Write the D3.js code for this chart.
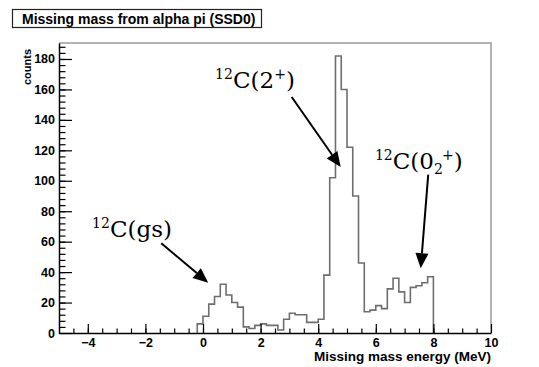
<!DOCTYPE html>
<html>
<head>
<meta charset="utf-8">
<script src="https://cdn.jsdelivr.net/npm/d3@7"></script>
<style>
  body { margin: 0; background: #fff; }
  svg { display: block; }
</style>
</head>
<body>
<svg id="chart"></svg>
<script>
// histogram bins: low edge (MeV) and content
const binWidth = 0.2;
const binLow = [-0.2, 0.0, 0.2, 0.4, 0.6, 0.8, 1.0, 1.2, 1.4, 1.6,
                1.8, 2.0, 2.2, 2.4, 2.6, 2.8, 3.0, 3.2, 3.4, 3.6,
                3.8, 4.0, 4.2, 4.4, 4.6, 4.8, 5.0, 5.2, 5.4, 5.6,
                5.8, 6.0, 6.2, 6.4, 6.6, 6.8, 7.0, 7.2, 7.4, 7.6, 7.8];
const counts = [6, 11, 19, 24, 32, 25, 20, 17, 4, 3,
                5, 6, 5, 5, 2, 9, 13, 12, 12, 7,
                7, 9, 38, 102, 182, 160, 122, 90, 46, 14,
                15, 18, 16, 29, 36, 27, 20, 30, 31, 33, 37];

const xTicks = [-4, -2, 0, 2, 4, 6, 8, 10];
const yTicks = [0, 20, 40, 60, 80, 100, 120, 140, 160, 180];

// annotations: label position and arrow (data coordinates)
const notes = [
  {iso: "12", main: "C(gs)", sub: "", sup: "", tail: "",
   lx: -3.85, ly: 63, x1: -1.45, y1: 59, x2: 0.18, y2: 33},
  {iso: "12", main: "C(2", sub: "", sup: "+", tail: ")",
   lx: 0.42, ly: 161, x1: 3.08, y1: 155, x2: 4.78, y2: 109},
  {iso: "12", main: "C(0", sub: "2", sup: "+", tail: ")",
   lx: 5.97, ly: 108, x1: 7.82, y1: 104, x2: 7.56, y2: 42.5}
];

const width = 539, height = 367;
const margin = {top: 43, right: 48, bottom: 34, left: 59};

const svg = d3.select("#chart")
    .attr("width", width)
    .attr("height", height);

const x = d3.scaleLinear().domain([-5, 10]).range([margin.left, width - margin.right]);
const y = d3.scaleLinear().domain([0, 190.5]).range([height - margin.bottom, margin.top]);

const sans = "'Liberation Sans', Arial, Helvetica, sans-serif";

// frame (top / right in grey)
svg.append("path")
    .attr("d", `M${x(-5)},${y(190.5)} H${x(10)} V${y(0)}`)
    .attr("fill", "none")
    .attr("stroke", "#9a9a9a")
    .attr("stroke-width", 1.5);

// histogram outline
const pts = [{x: binLow[0], y: 0}];
binLow.forEach((b, i) => pts.push({x: b, y: counts[i]}));
const lastEdge = binLow[binLow.length - 1] + binWidth;
pts.push({x: lastEdge, y: counts[counts.length - 1]});
pts.push({x: lastEdge, y: 0});

const line = d3.line()
    .x(d => x(d.x))
    .y(d => y(d.y))
    .curve(d3.curveStepAfter);

svg.append("path")
    .datum(pts)
    .attr("d", line)
    .attr("fill", "none")
    .attr("stroke", "#6e6e6e")
    .attr("stroke-width", 1.6);

// x axis
const gx = svg.append("g").attr("transform", `translate(0,${y(0)})`);
gx.append("g")
    .call(d3.axisBottom(x).tickValues(d3.range(-4.5, 10, 0.5)).tickFormat("").tickSize(-4.5).tickSizeOuter(0))
    .call(g => g.select(".domain").remove());
gx.append("g")
    .call(d3.axisBottom(x).tickValues(xTicks).tickSize(-9).tickSizeOuter(0).tickPadding(5))
    .call(g => g.selectAll("text").style("font-family", sans).style("font-weight", "bold")
        .style("font-size", "12.5px").attr("fill", "#000"));

// y axis
const gy = svg.append("g").attr("transform", `translate(${x(-5)},0)`);
gy.append("g")
    .call(d3.axisLeft(y).tickValues(d3.range(4, 190, 4)).tickFormat("").tickSize(-6.5).tickSizeOuter(0))
    .call(g => g.select(".domain").remove());
gy.append("g")
    .call(d3.axisLeft(y).tickValues(yTicks).tickSize(-13).tickSizeOuter(0).tickPadding(4))
    .call(g => g.selectAll("text").style("font-family", sans).style("font-weight", "bold")
        .style("font-size", "12.5px").attr("fill", "#000"));

svg.selectAll(".tick line").attr("stroke", "#000").attr("stroke-width", 1.2);
svg.selectAll(".domain").attr("stroke", "#000").attr("stroke-width", 1.5);

// axis titles
svg.append("text")
    .attr("x", x(10))
    .attr("y", 361)
    .attr("text-anchor", "end")
    .style("font-family", sans)
    .style("font-weight", "bold")
    .style("font-size", "13.5px")
    .text("Missing mass energy (MeV)");

svg.append("text")
    .attr("transform", `translate(31,${margin.top + 6}) rotate(-90)`)
    .attr("text-anchor", "end")
    .style("font-family", sans)
    .style("font-weight", "bold")
    .style("font-size", "11px")
    .text("counts");

// title box
svg.append("rect")
    .attr("x", 12.5).attr("y", 9.5)
    .attr("width", 249).attr("height", 18)
    .attr("fill", "#fff")
    .attr("stroke", "#222")
    .attr("stroke-width", 1.2);
svg.append("text")
    .attr("x", 22)
    .attr("y", 23.5)
    .style("font-family", sans)
    .style("font-weight", "bold")
    .style("font-size", "14px")
    .text("Missing mass from alpha pi (SSD0)");

// annotations
const serif = "'DejaVu Serif', 'Liberation Serif', serif";
notes.forEach(n => {
  const t = svg.append("text")
      .attr("x", x(n.lx))
      .attr("y", y(n.ly))
      .style("font-family", serif)
      .style("font-size", "23px")
      .attr("fill", "#000");
  t.append("tspan").style("font-size", "14px").attr("dy", -9).text(n.iso);
  t.append("tspan").attr("dy", 9).text(n.main);
  let shift = 0;
  if (n.sub) {
    t.append("tspan").style("font-size", "14px").attr("dy", 5).text(n.sub);
    shift = 5;
  }
  if (n.sup) {
    t.append("tspan").style("font-size", "14px").attr("dy", -9 - shift)
        .attr("dx", n.sub ? -1 : 0).text(n.sup);
    shift = -9;
  }
  if (n.tail) {
    t.append("tspan").attr("dy", -shift).text(n.tail);
  }

  // arrow
  const ax1 = x(n.x1), ay1 = y(n.y1), ax2 = x(n.x2), ay2 = y(n.y2);
  const ang = Math.atan2(ay2 - ay1, ax2 - ax1);
  const headLen = 15, headHalf = 6.5;
  const bx = ax2 - headLen * Math.cos(ang), by = ay2 - headLen * Math.sin(ang);
  svg.append("line")
      .attr("x1", ax1).attr("y1", ay1)
      .attr("x2", bx).attr("y2", by)
      .attr("stroke", "#000")
      .attr("stroke-width", 2);
  const px = -Math.sin(ang), py = Math.cos(ang);
  svg.append("path")
      .attr("d", `M${ax2},${ay2} L${bx + px * headHalf},${by + py * headHalf} L${bx - px * headHalf},${by - py * headHalf} Z`)
      .attr("fill", "#000");
});
</script>
</body>
</html>
